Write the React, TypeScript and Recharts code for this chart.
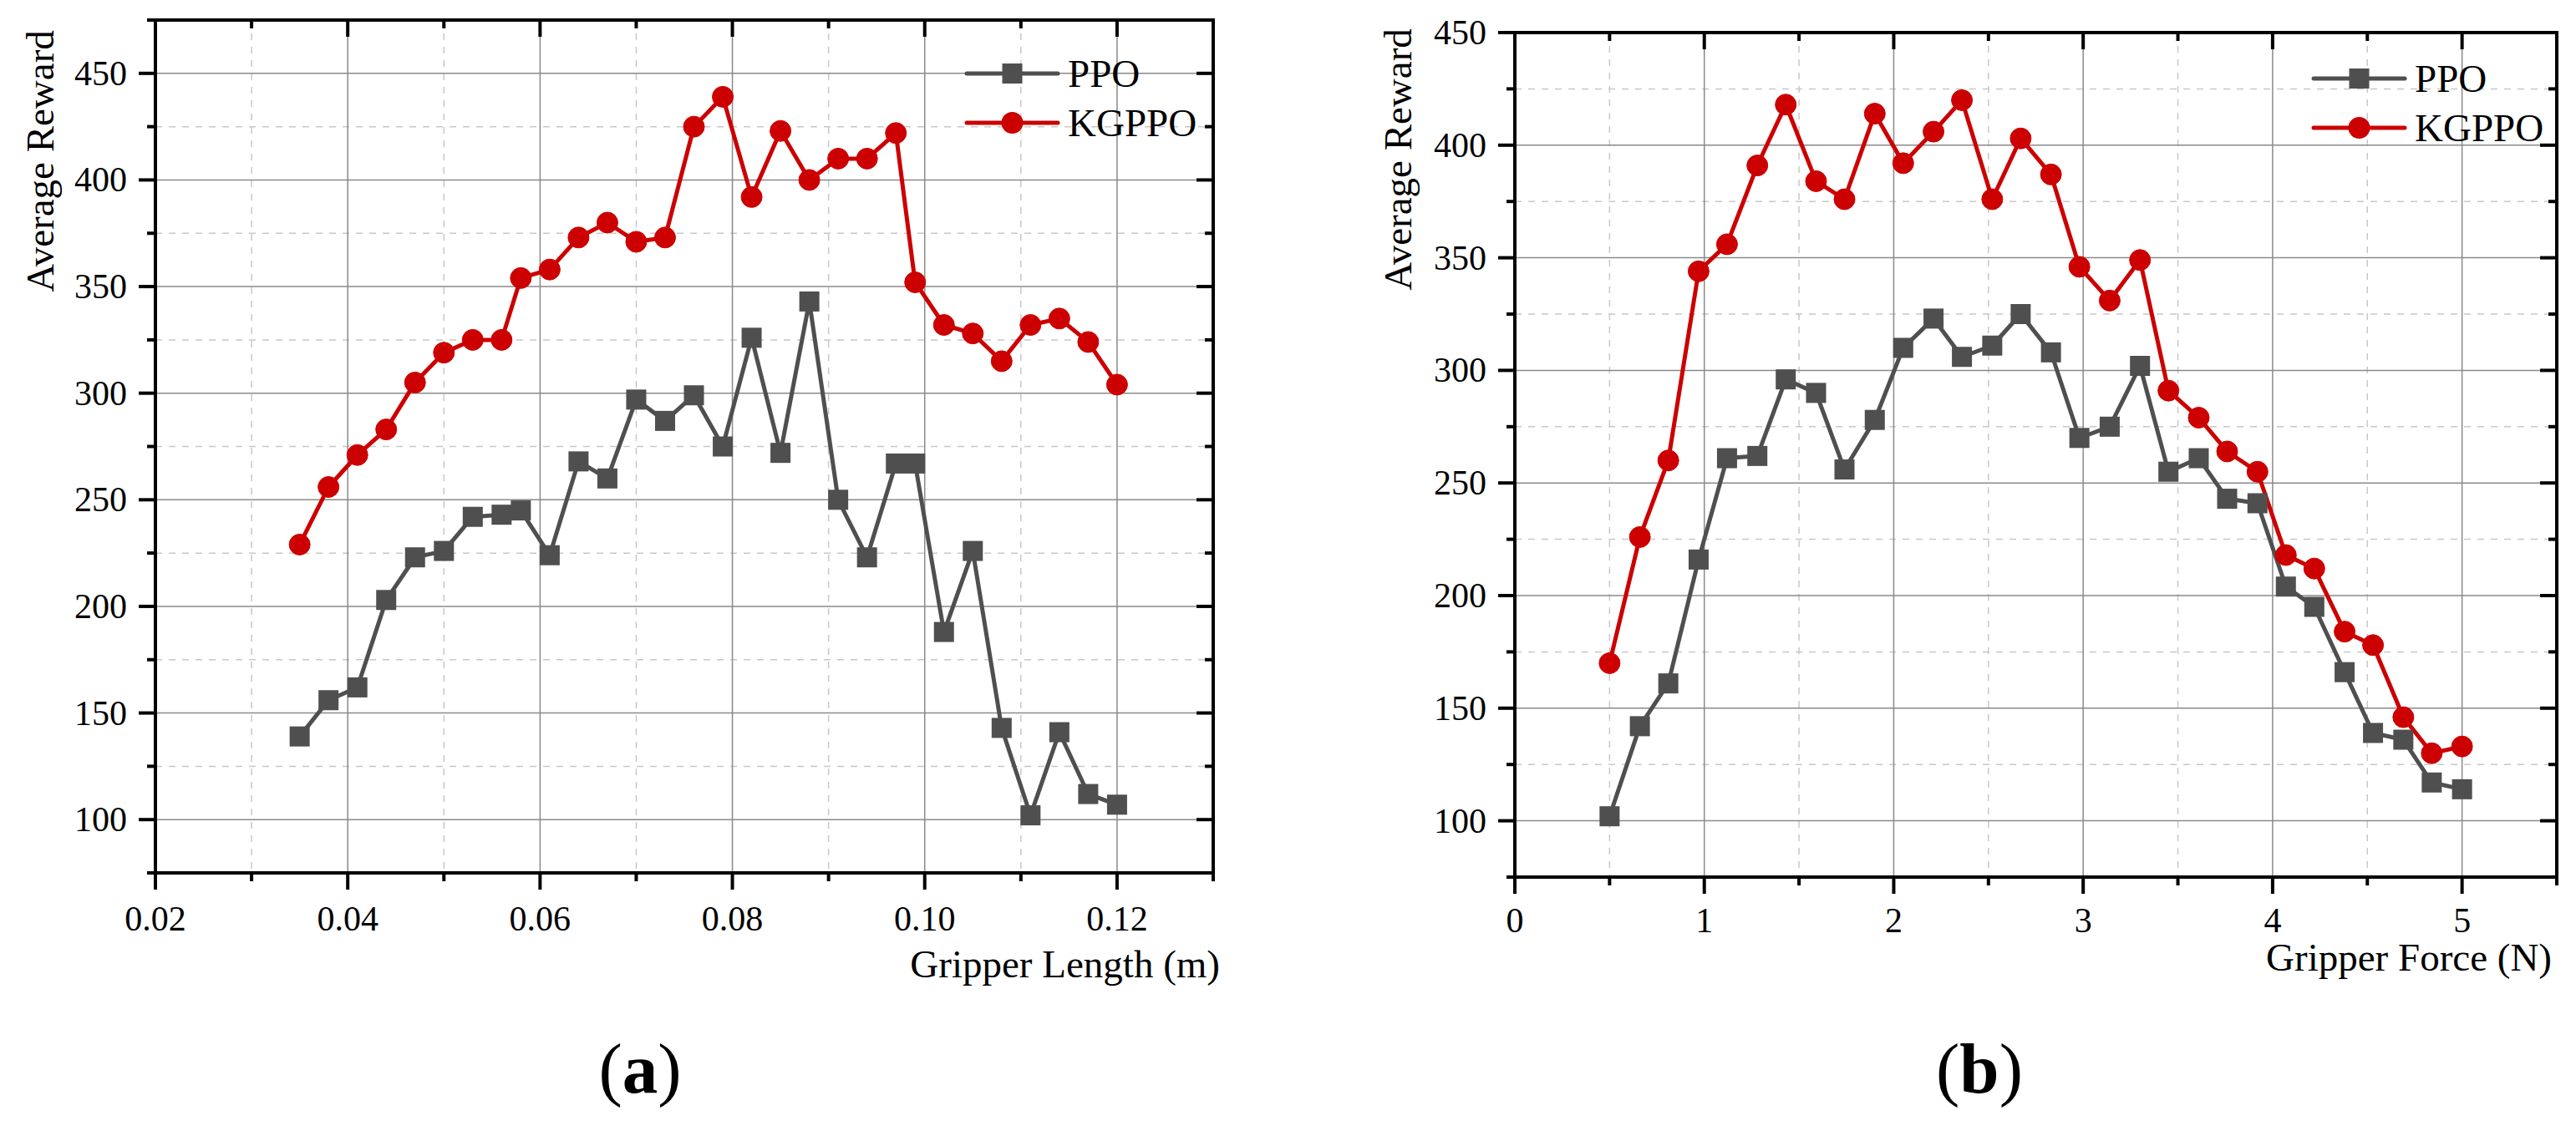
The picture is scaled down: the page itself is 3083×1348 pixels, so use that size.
import { LineChart, Line, XAxis, YAxis, CartesianGrid, Legend } from "recharts";

const FONT = '"Liberation Serif", "Times New Roman", Times, serif';
const INK = "#000000";
const PPO_COLOR = "#4f4f4f";
const KGPPO_COLOR = "#cc0000";

// (a) reward vs gripper length
const lengthSteps = [0.035, 0.038, 0.041, 0.044, 0.047, 0.05, 0.053, 0.056, 0.058, 0.061, 0.064, 0.067, 0.07, 0.073, 0.076, 0.079, 0.082, 0.085, 0.088, 0.091, 0.094, 0.097, 0.099, 0.102, 0.105, 0.108, 0.111, 0.114, 0.117, 0.12];
const lengthPPO = [139, 156, 162, 203, 223, 226, 242, 243, 245, 224, 268, 260, 297, 287, 299, 275, 326, 272, 343, 250, 223, 267, 267, 188, 226, 143, 102, 141, 112, 107];
const lengthKGPPO = [229, 256, 271, 283, 305, 319, 325, 325, 354, 358, 373, 380, 371, 373, 425, 439, 392, 423, 400, 410, 410, 422, 352, 332, 328, 315, 332, 335, 324, 304];

// (b) reward vs gripper force
const forceSteps = [0.5, 0.66, 0.81, 0.97, 1.12, 1.28, 1.43, 1.59, 1.74, 1.9, 2.05, 2.21, 2.36, 2.52, 2.67, 2.83, 2.98, 3.14, 3.3, 3.45, 3.61, 3.76, 3.92, 4.07, 4.22, 4.38, 4.53, 4.69, 4.84, 5.0];
const forcePPO = [102, 142, 161, 216, 261, 262, 296, 290, 256, 278, 310, 323, 306, 311, 325, 308, 270, 275, 302, 255, 261, 243, 241, 204, 195, 166, 139, 136, 117, 114];
const forceKGPPO = [170, 226, 260, 344, 356, 391, 418, 384, 376, 414, 392, 406, 420, 376, 403, 387, 346, 331, 349, 291, 279, 264, 255, 218, 212, 184, 178, 146, 130, 133];

// axis ticks
const lengthTicks = [0.02, 0.03, 0.04, 0.05, 0.06, 0.07, 0.08, 0.09, 0.1, 0.11, 0.12, 0.13];
const lengthLabels = [0.02, 0.04, 0.06, 0.08, 0.1, 0.12];
const forceTicks = [0, 0.5, 1, 1.5, 2, 2.5, 3, 3.5, 4, 4.5, 5, 5.5];
const forceLabels = [0, 1, 2, 3, 4, 5];
const rewardTicksA = [75, 100, 125, 150, 175, 200, 225, 250, 275, 300, 325, 350, 375, 400, 425, 450, 475];
const rewardTicksB = [75, 100, 125, 150, 175, 200, 225, 250, 275, 300, 325, 350, 375, 400, 425, 450];
const rewardLabels = [100, 150, 200, 250, 300, 350, 400, 450];
const legendOrder = ["ppo", "kgppo"];

type Row = { x: number; ppo: number; kgppo: number };

const toRows = (xs: number[], a: number[], b: number[]): Row[] =>
  xs.map((x, i) => ({ x, ppo: a[i], kgppo: b[i] }));

const isLabelled = (list: number[], v: number) => list.some((m) => Math.abs(m - v) < 1e-9);
const minorOf = (all: number[], major: number[]) => all.filter((v) => !isLabelled(major, v));

const MAJOR_LEN = 20;
const MINOR_LEN = 10;
const AXIS_W = 4;
const tickFont = { fontFamily: FONT, fontSize: 42, fill: INK };
const titleFont = { fontFamily: FONT, fontSize: 47, fill: INK };

function bottomTick(labels: number[], fmt: (v: number) => string, axisY: number, drop: number) {
  return (t: any) => {
    const v = t.payload.value;
    const major = isLabelled(labels, v);
    return (
      <g>
        <line x1={t.x} x2={t.x} y1={axisY} y2={axisY + (major ? MAJOR_LEN : MINOR_LEN)} stroke={INK} strokeWidth={AXIS_W} />
        {major && (
          <text x={t.x} y={axisY + drop} textAnchor="middle" {...tickFont}>
            {fmt(v)}
          </text>
        )}
      </g>
    );
  };
}

function topTick(labels: number[], axisY: number) {
  return (t: any) => {
    const major = isLabelled(labels, t.payload.value);
    return <line x1={t.x} x2={t.x} y1={axisY} y2={axisY + (major ? MAJOR_LEN : MINOR_LEN)} stroke={INK} strokeWidth={AXIS_W} />;
  };
}

function leftTick(labels: number[], axisX: number) {
  return (t: any) => {
    const v = t.payload.value;
    const major = isLabelled(labels, v);
    return (
      <g>
        <line x1={axisX} x2={axisX - (major ? MAJOR_LEN : MINOR_LEN)} y1={t.y} y2={t.y} stroke={INK} strokeWidth={AXIS_W} />
        {major && (
          <text x={axisX - 34} y={t.y + 14} textAnchor="end" {...tickFont}>
            {v}
          </text>
        )}
      </g>
    );
  };
}

function rightTick(labels: number[], axisX: number) {
  return (t: any) => {
    const major = isLabelled(labels, t.payload.value);
    return <line x1={axisX} x2={axisX - (major ? MAJOR_LEN : MINOR_LEN)} y1={t.y} y2={t.y} stroke={INK} strokeWidth={AXIS_W} />;
  };
}

const squareDot = (d: any) => (
  <rect key={`sq-${d.index}`} x={d.cx - 12} y={d.cy - 12} width={24} height={24} fill={PPO_COLOR} />
);

const renderLegend = (props: any) => {
  const items = [...(props.payload || [])].sort(
    (a: any, b: any) => legendOrder.indexOf(a.dataKey) - legendOrder.indexOf(b.dataKey)
  );
  return (
    <svg width={340} height={130} style={{ display: "block" }}>
      {items.map((entry: any, i: number) => {
        const cy = 33 + i * 59;
        return (
          <g key={entry.value}>
            <line x1={17} x2={126} y1={cy} y2={cy} stroke={entry.color} strokeWidth={5} strokeLinecap="round" />
            {entry.dataKey === "ppo" ? (
              <rect x={59.5} y={cy - 12} width={24} height={24} fill={entry.color} />
            ) : (
              <circle cx={71.5} cy={cy} r={13} fill={entry.color} />
            )}
            <text x={138} y={cy + 16} {...titleFont}>
              {entry.value}
            </text>
          </g>
        );
      })}
    </svg>
  );
};

type PanelProps = {
  width: number;
  height: number;
  pad: { left: number; right: number; top: number; bottom: number };
  rows: Row[];
  xDomain: [number, number];
  xTicks: number[];
  xLabels: number[];
  xFmt: (v: number) => string;
  xLabelDrop: number;
  yDomain: [number, number];
  yTicks: number[];
  xTitle: string;
  xTitleAt: [number, number];
  yTitle: string;
  yTitleAt: [number, number];
  caption: string;
  captionAt: [number, number];
  legendAt: [number, number];
};

function Panel(p: PanelProps) {
  const xMinor = minorOf(p.xTicks, p.xLabels);
  const yMinor = minorOf(p.yTicks, rewardLabels);
  const [yx, yy] = p.yTitleAt;
  const plotLeft = p.pad.left;
  const plotRight = p.width - p.pad.right;
  const plotTop = p.pad.top;
  const plotBottom = p.height - p.pad.bottom;

  return (
    <LineChart width={p.width} height={p.height} data={p.rows} margin={{ top: 0, right: 0, bottom: 0, left: 0 }}>
      <XAxis
        xAxisId="bottom"
        orientation="bottom"
        type="number"
        dataKey="x"
        domain={p.xDomain}
        ticks={p.xTicks}
        interval={0}
        height={p.pad.bottom}
        tickSize={0}
        tickMargin={0}
        tickLine={false}
        axisLine={false}
        tick={bottomTick(p.xLabels, p.xFmt, plotBottom, p.xLabelDrop)}
        allowDataOverflow
        label={() => (
          <g>
            <text x={p.xTitleAt[0]} y={p.xTitleAt[1]} textAnchor="end" {...titleFont}>
              {p.xTitle}
            </text>
            <text x={p.captionAt[0]} y={p.captionAt[1]} textAnchor="middle" fontFamily={FONT} fontSize={85} fill={INK}>
              (<tspan fontWeight="bold">{p.caption}</tspan>)
            </text>
          </g>
        )}
      />
      <XAxis
        xAxisId="top"
        orientation="top"
        type="number"
        dataKey="x"
        domain={p.xDomain}
        ticks={p.xTicks}
        interval={0}
        height={p.pad.top}
        tickSize={0}
        tickMargin={0}
        tickLine={false}
        axisLine={false}
        tick={topTick(p.xLabels, plotTop)}
        allowDataOverflow
      />
      <YAxis
        yAxisId="left"
        orientation="left"
        type="number"
        domain={p.yDomain}
        ticks={p.yTicks}
        interval={0}
        width={p.pad.left}
        tickSize={0}
        tickMargin={0}
        tickLine={false}
        axisLine={false}
        tick={leftTick(rewardLabels, plotLeft)}
        allowDataOverflow
        label={() => (
          <g>
            <text x={yx} y={yy} transform={`rotate(-90 ${yx} ${yy})`} textAnchor="middle" {...titleFont}>
              {p.yTitle}
            </text>
            {/* plot frame */}
            <rect
              x={plotLeft}
              y={plotTop}
              width={plotRight - plotLeft}
              height={plotBottom - plotTop}
              fill="none"
              stroke={INK}
              strokeWidth={AXIS_W}
            />
          </g>
        )}
      />
      <YAxis
        yAxisId="right"
        orientation="right"
        type="number"
        domain={p.yDomain}
        ticks={p.yTicks}
        interval={0}
        width={p.pad.right}
        tickSize={0}
        tickMargin={0}
        tickLine={false}
        axisLine={false}
        tick={rightTick(rewardLabels, plotRight)}
        allowDataOverflow
      />

      {/* hidden axes only feed the two grid layers */}
      <XAxis xAxisId="gridMajor" type="number" dataKey="x" domain={p.xDomain} ticks={p.xLabels} height={0} allowDataOverflow hide />
      <XAxis xAxisId="gridMinor" type="number" dataKey="x" domain={p.xDomain} ticks={xMinor} height={0} allowDataOverflow hide />
      <YAxis yAxisId="gridMajor" type="number" domain={p.yDomain} ticks={rewardLabels} width={0} allowDataOverflow hide />
      <YAxis yAxisId="gridMinor" type="number" domain={p.yDomain} ticks={yMinor} width={0} allowDataOverflow hide />
      <CartesianGrid xAxisId="gridMinor" yAxisId="gridMinor" stroke="#c8c8c8" strokeWidth={1.5} strokeDasharray="8 8" />
      <CartesianGrid xAxisId="gridMajor" yAxisId="gridMajor" stroke="#8a8a8a" strokeWidth={1.5} />

      <Legend
        layout="vertical"
        align="center"
        verticalAlign="middle"
        wrapperStyle={{ left: p.legendAt[0], top: p.legendAt[1], width: 340, height: 130 }}
        content={renderLegend}
      />

      <Line
        xAxisId="bottom"
        yAxisId="left"
        type="linear"
        dataKey="ppo"
        name="PPO"
        stroke={PPO_COLOR}
        strokeWidth={5}
        strokeLinejoin="round"
        dot={squareDot}
        activeDot={false}
        isAnimationActive={false}
      />
      <Line
        xAxisId="bottom"
        yAxisId="left"
        type="linear"
        dataKey="kgppo"
        name="KGPPO"
        stroke={KGPPO_COLOR}
        strokeWidth={5}
        strokeLinejoin="round"
        dot={{ r: 12.5, fill: KGPPO_COLOR, stroke: KGPPO_COLOR, strokeWidth: 1 }}
        activeDot={false}
        isAnimationActive={false}
      />
    </LineChart>
  );
}

export default function App() {
  return (
    <div style={{ position: "absolute", left: 0, top: 0, width: 3083, height: 1348, background: "#fff", overflow: "hidden" }}>
      <div style={{ position: "absolute", left: 0, top: 0 }}>
        <Panel
          width={1520}
          height={1348}
          pad={{ left: 186, right: 68, top: 24, bottom: 303 }}
          rows={toRows(lengthSteps, lengthPPO, lengthKGPPO)}
          xDomain={[0.02, 0.13]}
          xTicks={lengthTicks}
          xLabels={lengthLabels}
          xFmt={(v) => v.toFixed(2)}
          xLabelDrop={69}
          yDomain={[75, 475]}
          yTicks={rewardTicksA}
          xTitle="Gripper Length (m)"
          xTitleAt={[1460, 1170]}
          yTitle="Average Reward"
          yTitleAt={[64, 193]}
          caption="a"
          captionAt={[766, 1308]}
          legendAt={[1140, 55]}
        />
      </div>
      <div style={{ position: "absolute", left: 1560, top: 0 }}>
        <Panel
          width={1523}
          height={1348}
          pad={{ left: 253, right: 23, top: 39, bottom: 298 }}
          rows={toRows(forceSteps, forcePPO, forceKGPPO)}
          xDomain={[0, 5.5]}
          xTicks={forceTicks}
          xLabels={forceLabels}
          xFmt={(v) => String(v)}
          xLabelDrop={66}
          yDomain={[75, 450]}
          yTicks={rewardTicksB}
          xTitle="Gripper Force (N)"
          xTitleAt={[1494, 1162]}
          yTitle="Average Reward"
          yTitleAt={[129, 191]}
          caption="b"
          captionAt={[809, 1308]}
          legendAt={[1192, 61]}
        />
      </div>
    </div>
  );
}
